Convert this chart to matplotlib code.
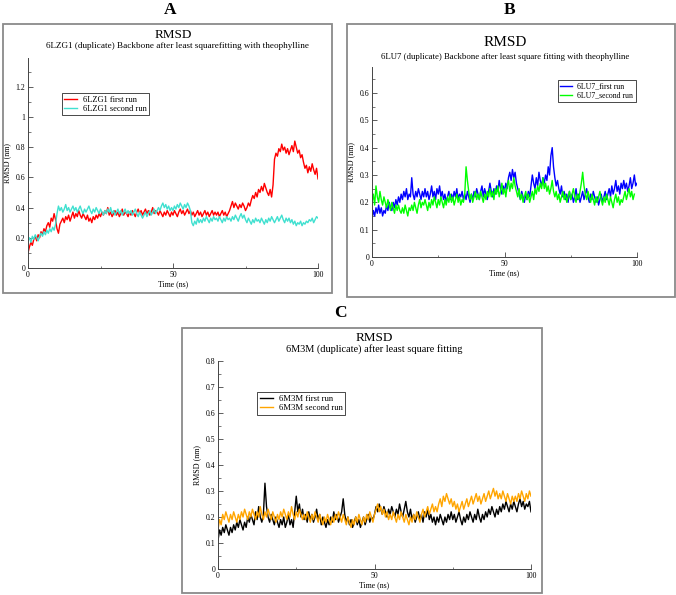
import numpy as np
import matplotlib
matplotlib.use("Agg")
import matplotlib.pyplot as plt
from matplotlib.patches import Rectangle
from matplotlib.ticker import MultipleLocator

plt.rcParams['font.family'] = ['Liberation Serif', 'DejaVu Serif']

W, H = 676, 595

# ---------------- data (RMSD in nm, sampled every 0.5 ns, 0..100 ns) -------------
time_ns = np.linspace(0, 100, 201)

a_first = [
    0.10, 0.14, 0.17, 0.15, 0.19, 0.21, 0.18, 0.22, 0.20, 0.24,
    0.22, 0.26, 0.24, 0.28, 0.30, 0.27, 0.33, 0.31, 0.36, 0.32,
    0.26, 0.23, 0.29, 0.31, 0.33, 0.30, 0.34, 0.32, 0.35, 0.31,
    0.34, 0.37, 0.33, 0.36, 0.34, 0.38, 0.35, 0.33, 0.36, 0.34,
    0.32, 0.35, 0.31, 0.33, 0.30, 0.34, 0.32, 0.35, 0.33, 0.36,
    0.34, 0.37, 0.35, 0.38, 0.36, 0.40, 0.35, 0.37, 0.34, 0.36,
    0.38, 0.35, 0.37, 0.34, 0.36, 0.39, 0.35, 0.37, 0.36, 0.34,
    0.37, 0.35, 0.38, 0.36, 0.34, 0.37, 0.39, 0.36, 0.38, 0.35,
    0.37, 0.39, 0.36, 0.38, 0.35, 0.37, 0.40, 0.36, 0.38, 0.37,
    0.35, 0.38, 0.36, 0.34, 0.37, 0.35, 0.38, 0.36, 0.34, 0.37,
    0.35, 0.38, 0.36, 0.34, 0.37, 0.39, 0.36, 0.38, 0.35, 0.37,
    0.39, 0.36, 0.38, 0.35, 0.37, 0.34, 0.36, 0.38, 0.35, 0.37,
    0.34, 0.36, 0.38, 0.35, 0.37, 0.34, 0.36, 0.38, 0.35, 0.37,
    0.35, 0.37, 0.34, 0.36, 0.38, 0.35, 0.37, 0.34, 0.36, 0.38,
    0.41, 0.44, 0.40, 0.43, 0.41, 0.39, 0.42, 0.40, 0.43, 0.41,
    0.38, 0.40, 0.43, 0.41, 0.45, 0.48, 0.46, 0.50, 0.47, 0.52,
    0.50, 0.54, 0.51, 0.56, 0.53, 0.50, 0.48, 0.52, 0.47, 0.55,
    0.72, 0.76, 0.74, 0.79, 0.77, 0.82, 0.78, 0.80, 0.76, 0.79,
    0.75, 0.78, 0.81, 0.77, 0.84, 0.80, 0.76, 0.78, 0.73, 0.75,
    0.70, 0.66, 0.68, 0.63, 0.67, 0.64, 0.69, 0.65, 0.62, 0.66,
    0.59]

a_second = [
    0.18, 0.20, 0.17, 0.21, 0.19, 0.22, 0.20, 0.18, 0.21, 0.23,
    0.21, 0.24, 0.22, 0.25, 0.23, 0.26, 0.24, 0.27, 0.25, 0.29,
    0.36, 0.41, 0.38, 0.40, 0.37, 0.39, 0.42, 0.38, 0.40, 0.37,
    0.39, 0.41, 0.38, 0.40, 0.37, 0.39, 0.41, 0.38, 0.36, 0.39,
    0.37, 0.39, 0.41, 0.38, 0.36, 0.39, 0.37, 0.40, 0.38, 0.36,
    0.39, 0.37, 0.35, 0.38, 0.36, 0.39, 0.37, 0.40, 0.36, 0.38,
    0.35, 0.37, 0.39, 0.36, 0.38, 0.35, 0.37, 0.39, 0.36, 0.38,
    0.36, 0.38, 0.35, 0.37, 0.39, 0.36, 0.34, 0.37, 0.35, 0.33,
    0.35, 0.37, 0.34, 0.36, 0.38, 0.35, 0.37, 0.39, 0.36, 0.38,
    0.40, 0.38, 0.41, 0.43, 0.40, 0.42, 0.39, 0.41, 0.38, 0.40,
    0.38, 0.41, 0.39, 0.42, 0.40, 0.43, 0.41, 0.39, 0.42, 0.40,
    0.43, 0.41, 0.38, 0.30, 0.28, 0.31, 0.29, 0.33, 0.30, 0.32,
    0.30, 0.33, 0.31, 0.34, 0.32, 0.30, 0.33, 0.31, 0.34, 0.32,
    0.33, 0.31, 0.34, 0.32, 0.30, 0.33, 0.31, 0.34, 0.32, 0.33,
    0.31, 0.34, 0.32, 0.35, 0.33, 0.31, 0.34, 0.36, 0.33, 0.35,
    0.32, 0.30, 0.33, 0.31, 0.29, 0.32, 0.30, 0.33, 0.31, 0.32,
    0.30, 0.33, 0.31, 0.29, 0.32, 0.30, 0.33, 0.31, 0.34, 0.32,
    0.30, 0.32, 0.34, 0.31, 0.33, 0.35, 0.32, 0.30, 0.33, 0.31,
    0.33, 0.30, 0.32, 0.29, 0.31, 0.28, 0.30, 0.29, 0.31, 0.28,
    0.30, 0.29, 0.31, 0.30, 0.32, 0.31, 0.33, 0.30, 0.32, 0.34,
    0.33]

b_first = [
    0.14, 0.17, 0.15, 0.18, 0.16, 0.19, 0.16, 0.18, 0.15, 0.17,
    0.16, 0.19, 0.17, 0.20, 0.18, 0.17, 0.20, 0.18, 0.21, 0.19,
    0.22, 0.20, 0.23, 0.21, 0.24, 0.22, 0.25, 0.21, 0.23, 0.22,
    0.29, 0.23, 0.21, 0.24, 0.22, 0.25, 0.23, 0.21, 0.24, 0.22,
    0.25, 0.22, 0.24, 0.21, 0.23, 0.26, 0.22, 0.24, 0.21, 0.25,
    0.23, 0.26, 0.22, 0.24, 0.21, 0.23, 0.20, 0.22, 0.24, 0.21,
    0.23, 0.21, 0.24, 0.22, 0.25, 0.21, 0.23, 0.22, 0.24, 0.21,
    0.23, 0.21, 0.24, 0.22, 0.20, 0.23, 0.21, 0.24, 0.22, 0.25,
    0.23, 0.21, 0.24, 0.26, 0.22, 0.25, 0.23, 0.21, 0.24, 0.27,
    0.24, 0.22, 0.25, 0.23, 0.26, 0.24, 0.28, 0.25, 0.23, 0.26,
    0.24, 0.27, 0.25, 0.29, 0.31, 0.28, 0.32, 0.29, 0.31, 0.27,
    0.25, 0.23, 0.21, 0.24, 0.22, 0.20, 0.23, 0.21, 0.24, 0.22,
    0.26, 0.30, 0.27, 0.25, 0.29, 0.26, 0.31, 0.28, 0.26, 0.29,
    0.27, 0.30, 0.28, 0.33, 0.30, 0.37, 0.40, 0.33, 0.29, 0.26,
    0.28, 0.25, 0.23, 0.26, 0.22, 0.24, 0.21, 0.23, 0.20, 0.24,
    0.21, 0.23, 0.20, 0.22, 0.25, 0.21, 0.23, 0.20, 0.22, 0.24,
    0.21, 0.23, 0.25, 0.22, 0.20, 0.23, 0.21, 0.24, 0.22, 0.20,
    0.22, 0.19, 0.21, 0.23, 0.20, 0.22, 0.24, 0.21, 0.23, 0.25,
    0.22, 0.26, 0.23, 0.25, 0.28, 0.24, 0.26, 0.23, 0.27, 0.25,
    0.28, 0.25, 0.27, 0.24, 0.26, 0.29, 0.25, 0.27, 0.30, 0.26,
    0.27]

b_second = [
    0.20, 0.23, 0.19, 0.26, 0.22, 0.20, 0.24, 0.21, 0.19, 0.22,
    0.20, 0.18, 0.21, 0.19, 0.17, 0.20, 0.18, 0.16, 0.19, 0.17,
    0.19, 0.17, 0.16, 0.18, 0.16, 0.19, 0.17, 0.15, 0.18, 0.17,
    0.19, 0.17, 0.20, 0.18, 0.16, 0.19, 0.21, 0.18, 0.20, 0.19,
    0.21, 0.19, 0.17, 0.20, 0.18, 0.21, 0.19, 0.22, 0.20, 0.18,
    0.21, 0.19, 0.22, 0.20, 0.18, 0.21, 0.19, 0.22, 0.20, 0.23,
    0.20, 0.22, 0.19, 0.21, 0.23, 0.20, 0.22, 0.19, 0.21, 0.20,
    0.23, 0.33, 0.28, 0.24, 0.21, 0.23, 0.20, 0.22, 0.24, 0.21,
    0.23, 0.21, 0.24, 0.22, 0.20, 0.23, 0.21, 0.24, 0.22, 0.25,
    0.22, 0.24, 0.21, 0.25, 0.23, 0.26, 0.22, 0.24, 0.27, 0.23,
    0.25, 0.22, 0.26, 0.28, 0.24, 0.27, 0.25, 0.29, 0.26, 0.24,
    0.22, 0.25, 0.21, 0.23, 0.20, 0.22, 0.24, 0.21, 0.23, 0.20,
    0.22, 0.24, 0.21, 0.25, 0.23, 0.26, 0.24, 0.27, 0.25, 0.29,
    0.25, 0.27, 0.24, 0.26, 0.23, 0.25, 0.28, 0.24, 0.22, 0.24,
    0.21, 0.23, 0.20, 0.22, 0.24, 0.21, 0.23, 0.20, 0.22, 0.24,
    0.21, 0.23, 0.25, 0.22, 0.20, 0.23, 0.21, 0.24, 0.27, 0.31,
    0.26, 0.23, 0.21, 0.24, 0.22, 0.20, 0.23, 0.21, 0.19, 0.22,
    0.20, 0.22, 0.24, 0.21, 0.19, 0.22, 0.20, 0.23, 0.21, 0.19,
    0.22, 0.20, 0.18, 0.21, 0.23, 0.20, 0.22, 0.19, 0.21, 0.20,
    0.22, 0.24, 0.21, 0.23, 0.25, 0.22, 0.24, 0.21, 0.23, 0.25,
    0.23]

c_first = [
    0.11, 0.15, 0.13, 0.16, 0.14, 0.17, 0.15, 0.13, 0.16, 0.14,
    0.17, 0.15, 0.18, 0.16, 0.19, 0.17, 0.15, 0.18, 0.16, 0.20,
    0.18, 0.21, 0.19, 0.17, 0.22, 0.19, 0.24, 0.20, 0.18, 0.21,
    0.33, 0.24, 0.20, 0.18, 0.21, 0.19, 0.17, 0.20, 0.18, 0.16,
    0.19, 0.17, 0.20, 0.16, 0.18, 0.21, 0.17, 0.19, 0.16, 0.22,
    0.28, 0.22, 0.25, 0.20, 0.23, 0.19, 0.21, 0.18, 0.22, 0.19,
    0.21, 0.18, 0.20, 0.23, 0.19, 0.21, 0.17, 0.20, 0.18, 0.16,
    0.19, 0.17, 0.20, 0.18, 0.22, 0.19, 0.21, 0.18, 0.20, 0.22,
    0.27, 0.21, 0.18, 0.20, 0.17, 0.19, 0.16, 0.18, 0.20, 0.17,
    0.19, 0.16, 0.18, 0.20, 0.17, 0.19, 0.21, 0.18, 0.20, 0.19,
    0.21, 0.24, 0.22, 0.25, 0.23, 0.21, 0.24, 0.22, 0.20, 0.23,
    0.21, 0.24, 0.22, 0.20, 0.23, 0.21, 0.25, 0.22, 0.20, 0.23,
    0.26, 0.22, 0.20, 0.23, 0.19, 0.21, 0.18, 0.20, 0.22, 0.19,
    0.21, 0.18, 0.22, 0.20, 0.23, 0.19, 0.21, 0.18, 0.20, 0.17,
    0.20, 0.18, 0.21, 0.19, 0.17, 0.20, 0.18, 0.21, 0.19, 0.22,
    0.19, 0.21, 0.18, 0.20, 0.22, 0.19, 0.17, 0.20, 0.18, 0.21,
    0.19, 0.22, 0.20, 0.18, 0.21, 0.19, 0.23, 0.20, 0.18, 0.21,
    0.19, 0.22, 0.20, 0.23, 0.21, 0.24, 0.22, 0.20, 0.23, 0.21,
    0.24, 0.22, 0.25, 0.23, 0.26, 0.24, 0.22, 0.25, 0.23, 0.26,
    0.24, 0.22, 0.25, 0.27, 0.24, 0.26, 0.23, 0.25, 0.24, 0.26,
    0.22]

c_second = [
    0.15, 0.19, 0.17, 0.21, 0.19, 0.22, 0.20, 0.18, 0.21, 0.19,
    0.22, 0.20, 0.18, 0.21, 0.19, 0.22, 0.20, 0.23, 0.21, 0.19,
    0.22, 0.20, 0.23, 0.21, 0.19, 0.22, 0.20, 0.24, 0.21, 0.19,
    0.22, 0.20, 0.23, 0.21, 0.19, 0.22, 0.20, 0.18, 0.21, 0.19,
    0.22, 0.20, 0.23, 0.21, 0.19, 0.22, 0.20, 0.24, 0.21, 0.19,
    0.22, 0.20, 0.23, 0.21, 0.19, 0.21, 0.19, 0.22, 0.20, 0.18,
    0.21, 0.19, 0.22, 0.20, 0.18, 0.21, 0.19, 0.17, 0.20, 0.18,
    0.21, 0.19, 0.17, 0.20, 0.18, 0.21, 0.19, 0.22, 0.20, 0.18,
    0.21, 0.19, 0.17, 0.20, 0.18, 0.16, 0.19, 0.17, 0.20, 0.18,
    0.21, 0.19, 0.17, 0.20, 0.18, 0.21, 0.19, 0.22, 0.20, 0.18,
    0.21, 0.23, 0.25, 0.22, 0.24, 0.21, 0.23, 0.20, 0.22, 0.19,
    0.21, 0.19, 0.22, 0.20, 0.18, 0.21, 0.19, 0.22, 0.20, 0.18,
    0.21, 0.19, 0.17, 0.20, 0.18, 0.21, 0.19, 0.22, 0.20, 0.18,
    0.21, 0.23, 0.20, 0.22, 0.24, 0.21, 0.23, 0.25, 0.22, 0.24,
    0.22, 0.25, 0.27, 0.24, 0.28, 0.26, 0.29, 0.27, 0.25, 0.27,
    0.24, 0.26, 0.23, 0.25, 0.22, 0.24, 0.26, 0.23, 0.25, 0.27,
    0.24, 0.26, 0.28, 0.25, 0.27, 0.29, 0.26, 0.28, 0.25, 0.27,
    0.29, 0.26, 0.28, 0.30, 0.27, 0.29, 0.31, 0.28, 0.30, 0.27,
    0.29, 0.27, 0.30, 0.28, 0.26, 0.29, 0.27, 0.25, 0.28, 0.26,
    0.28, 0.26, 0.29, 0.27, 0.30, 0.28, 0.26, 0.29, 0.27, 0.30,
    0.28]

x_ticks = [0, 50, 100]
x_tick_labels = ['0', '50', '100']
a_yticks = [0, 0.2, 0.4, 0.6, 0.8, 1.0, 1.2]
a_ytick_labels = ['0', '0.2', '0.4', '0.6', '0.8', '1', '1.2']
b_yticks = [0, 0.1, 0.2, 0.3, 0.4, 0.5, 0.6]
b_ytick_labels = ['0', '0.1', '0.2', '0.3', '0.4', '0.5', '0.6']
c_yticks = [0, 0.1, 0.2, 0.3, 0.4, 0.5, 0.6, 0.7, 0.8]
c_ytick_labels = ['0', '0.1', '0.2', '0.3', '0.4', '0.5', '0.6', '0.7', '0.8']

# ---------------- figure ---------------------------------------------------------
fig = plt.figure(figsize=(W / 100, H / 100), dpi=100)
fig.patch.set_facecolor('white')


def fx(px):
    return px / W


def fy(py):
    return 1 - py / H


def add_box(x0, y0, x1, y1):
    fig.add_artist(Rectangle((fx(x0), fy(y1)), fx(x1) - fx(x0), fy(y0) - fy(y1),
                             transform=fig.transFigure, fill=False,
                             edgecolor='#8a8a8a', linewidth=1.3))


def make_axes(left, top, right, bottom):
    return fig.add_axes([fx(left), fy(bottom), fx(right) - fx(left), fy(top) - fy(bottom)])


def style(ax, ylim, yticks, ylabels, yminor):
    ax.set_xlim(0, 100)
    ax.set_ylim(*ylim)
    ax.set_xticks(x_ticks)
    ax.set_xticklabels(x_tick_labels)
    ax.xaxis.set_minor_locator(MultipleLocator(25))
    ax.set_yticks(yticks)
    ax.set_yticklabels(ylabels)
    ax.yaxis.set_minor_locator(MultipleLocator(yminor))
    for s in ['top', 'right']:
        ax.spines[s].set_visible(False)
    for s in ['left', 'bottom']:
        ax.spines[s].set_color('#444444')
        ax.spines[s].set_linewidth(0.7)
    ax.tick_params(which='major', direction='in', length=3.5, width=0.6,
                   labelsize=5.6, pad=2, color='#444444')
    ax.tick_params(which='minor', direction='in', length=1.8, width=0.5, color='#444444')
    ax.set_xlabel('Time (ns)', fontsize=5.6, labelpad=1)
    ax.set_ylabel('RMSD (nm)', fontsize=5.8, labelpad=3)
    ax.patch.set_alpha(0)


def add_legend(ax, anchor, size):
    leg = ax.legend(loc='upper left', bbox_to_anchor=anchor, borderaxespad=0,
                    fontsize=size, frameon=True, fancybox=False, edgecolor='black',
                    handlelength=1.5, handletextpad=0.7, borderpad=0.3,
                    labelspacing=0.15, framealpha=1)
    leg.get_frame().set_linewidth(0.5)
    return leg


# Panel A
add_box(3, 24, 332, 293)
axA = make_axes(28, 58, 318, 268)
axA.plot(time_ns, a_first, color='#ff0000', lw=1.0, label='6LZG1 first run')
axA.plot(time_ns, a_second, color='#40e0d0', lw=1.0, label='6LZG1 second run')
style(axA, (0, 1.39), a_yticks, a_ytick_labels, 0.1)
add_legend(axA, (0.117, 0.833), 6.0)
fig.text(fx(173), fy(35), 'RMSD', ha='center', va='center', fontsize=9.5)
fig.text(fx(178), fy(46), '6LZG1 (duplicate) Backbone after least squarefitting with theophylline',
         ha='center', va='center', fontsize=6.6)
fig.text(fx(170), fy(10), 'A', ha='center', va='center', fontsize=12.5, fontweight='bold')

# Panel B
add_box(347, 24, 675, 297)
axB = make_axes(372, 67, 637, 257)
axB.plot(time_ns, b_first, color='#0000ff', lw=1.0, label='6LU7_first run')
axB.plot(time_ns[:199], b_second[:199], color='#00ff00', lw=1.0, label='6LU7_second run')
style(axB, (0, 0.695), b_yticks, b_ytick_labels, 0.05)
add_legend(axB, (0.702, 0.932), 5.6)
fig.text(fx(505), fy(43), 'RMSD', ha='center', va='center', fontsize=11)
fig.text(fx(505), fy(57), '6LU7 (duplicate) Backbone after least square fitting with theophylline',
         ha='center', va='center', fontsize=6.3)
fig.text(fx(510), fy(10), 'B', ha='center', va='center', fontsize=12.5, fontweight='bold')

# Panel C
add_box(182, 328, 542, 593)
axC = make_axes(218, 361, 531, 569)
axC.plot(time_ns, c_first, color='#000000', lw=1.0, label='6M3M first run')
axC.plot(time_ns, c_second, color='#ffa500', lw=1.0, label='6M3M second run')
style(axC, (0, 0.8), c_yticks, c_ytick_labels, 0.05)
add_legend(axC, (0.125, 0.851), 6.2)
fig.text(fx(374), fy(338), 'RMSD', ha='center', va='center', fontsize=9.5)
fig.text(fx(374), fy(349), '6M3M (duplicate) after least square fitting',
         ha='center', va='center', fontsize=7.4)
fig.text(fx(340), fy(313), 'C', ha='center', va='center', fontsize=12.5, fontweight='bold')

fig.savefig('out.png', dpi=100, facecolor='white')
